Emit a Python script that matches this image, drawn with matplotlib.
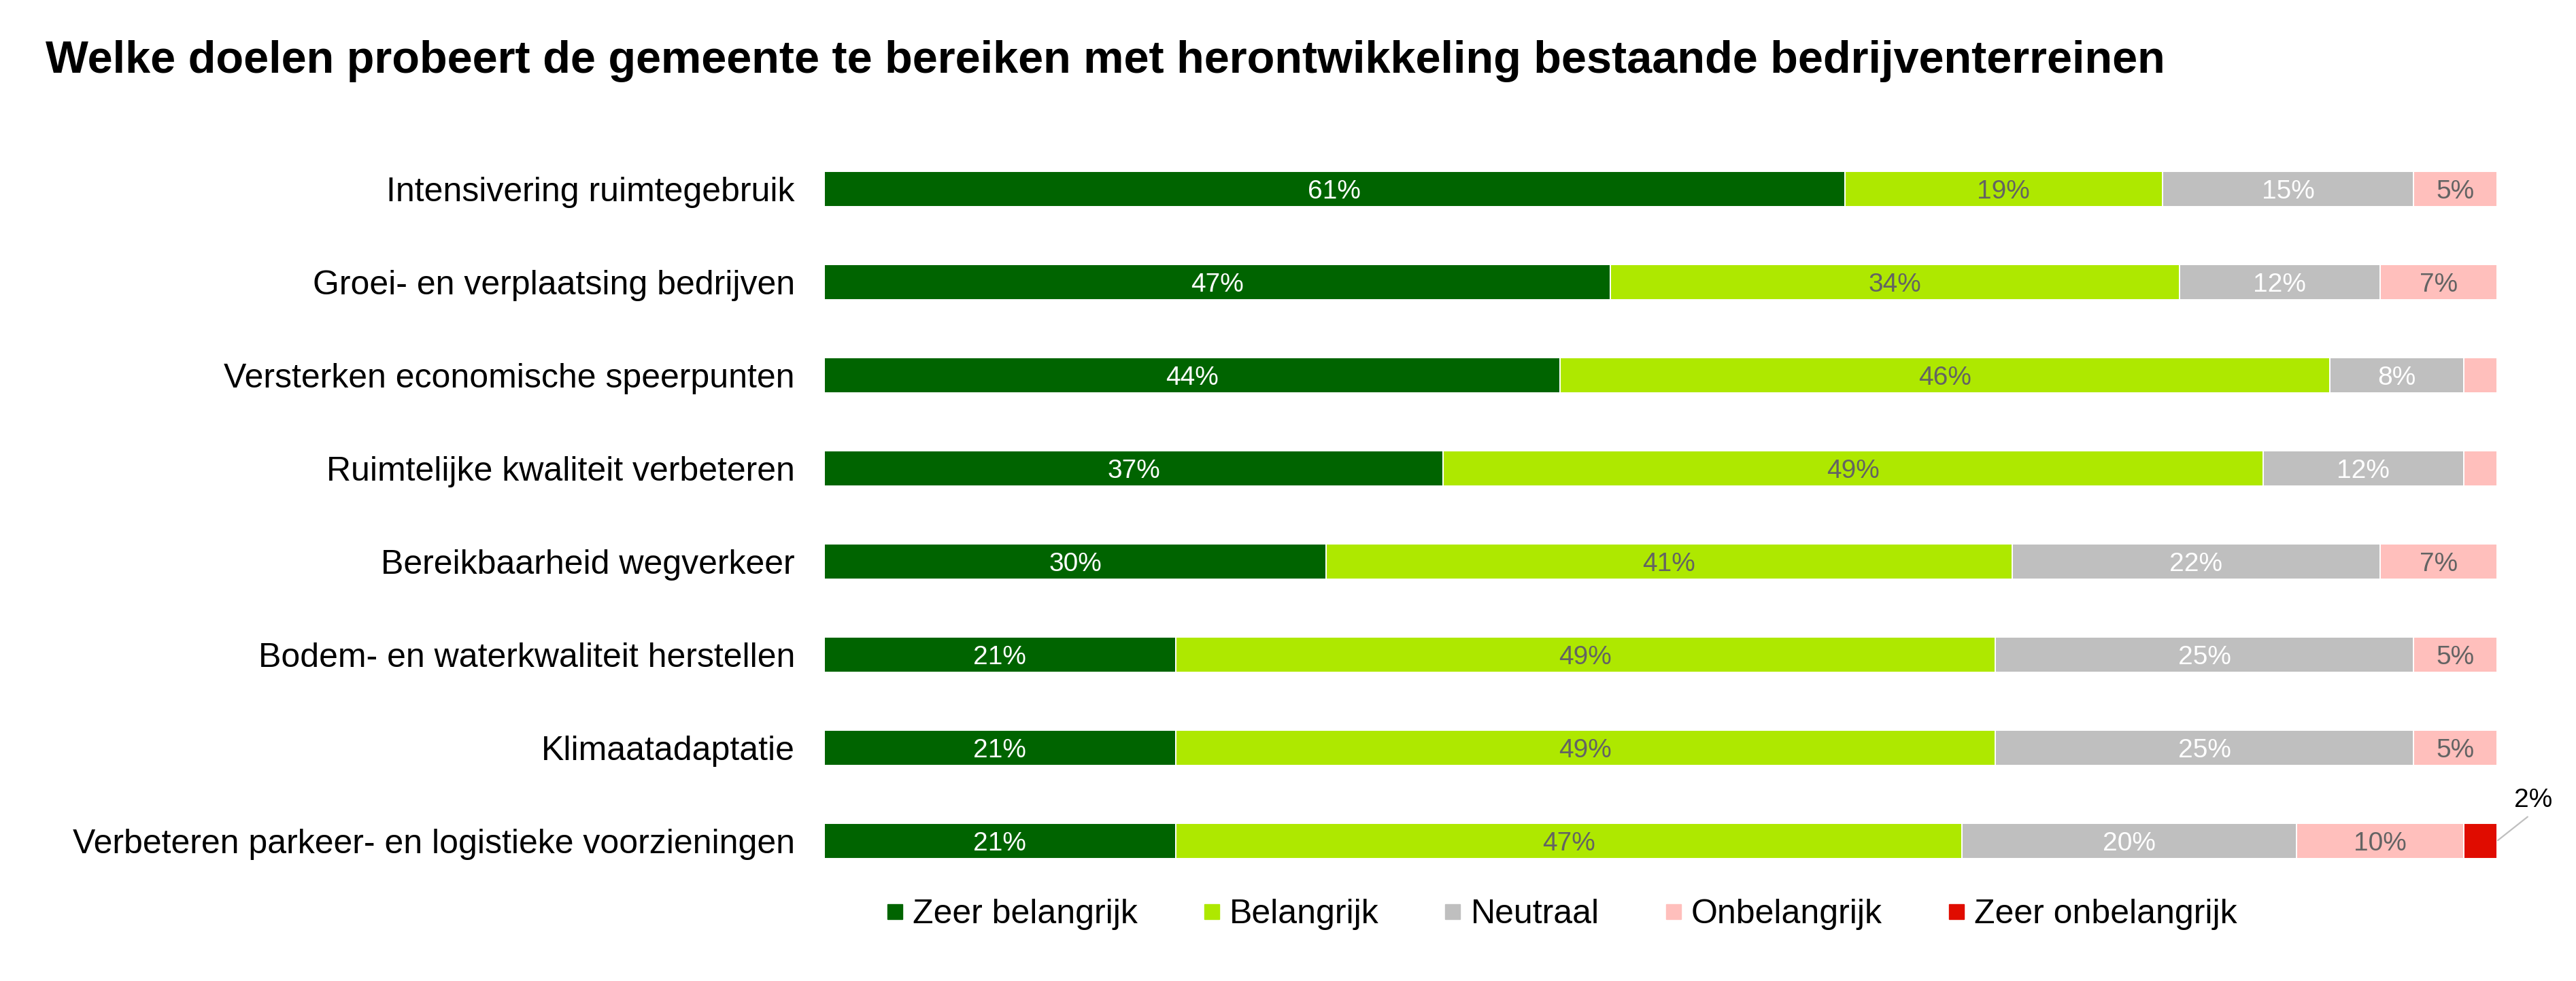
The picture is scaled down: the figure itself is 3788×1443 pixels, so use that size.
import matplotlib
matplotlib.use('Agg')
import matplotlib.pyplot as plt
from matplotlib.lines import Line2D
import numpy as np

plt.rcParams['font.family'] = ['Liberation Sans', 'DejaVu Sans']

title = "Welke doelen probeert de gemeente te bereiken met herontwikkeling bestaande bedrijventerreinen"

categories = [
    "Intensivering ruimtegebruik",
    "Groei- en verplaatsing bedrijven",
    "Versterken economische speerpunten",
    "Ruimtelijke kwaliteit verbeteren",
    "Bereikbaarheid wegverkeer",
    "Bodem- en waterkwaliteit herstellen",
    "Klimaatadaptatie",
    "Verbeteren parkeer- en logistieke voorzieningen",
]

series_names = ["Zeer belangrijk", "Belangrijk", "Neutraal", "Onbelangrijk", "Zeer onbelangrijk"]
zeer_belangrijk = [61, 47, 44, 37, 30, 21, 21, 21]
belangrijk = [19, 34, 46, 49, 41, 49, 49, 47]
neutraal = [15, 12, 8, 12, 22, 25, 25, 20]
onbelangrijk = [5, 7, 2, 2, 7, 5, 5, 10]
zeer_onbelangrijk = [0, 0, 0, 0, 0, 0, 0, 2]

series = [zeer_belangrijk, belangrijk, neutraal, onbelangrijk, zeer_onbelangrijk]
colors = ['#006400', '#AEE800', '#BFBFBF', '#FFBFBC', '#E00C00']
label_colors = ['white', '#636363', 'white', '#636363', 'black']

fig = plt.figure(figsize=(37.88, 14.43), dpi=100)
ax = fig.add_axes([0.31996, 0.0953, 0.6494, 0.7595])

y = np.arange(len(categories))
left = np.zeros(len(categories))
bar_h = 0.38
for si, (vals, col, lcol) in enumerate(zip(series, colors, label_colors)):
    vals = np.array(vals, dtype=float)
    ax.barh(y, vals, left=left, height=bar_h, color=col,
            edgecolor='white', linewidth=1.4)
    for i, v in enumerate(vals):
        if v >= 5:
            ax.text(left[i] + v / 2, y[i], f"{int(v)}%", ha='center',
                    va='center_baseline', fontsize=28, color=lcol)
        elif v > 0 and si == len(series) - 1:
            ax.annotate(f"{int(v)}%", xy=(left[i] + v, y[i]), xytext=(38, 43),
                        textcoords='offset points', ha='center', va='center',
                        fontsize=28, color='black', annotation_clip=False,
                        arrowprops=dict(arrowstyle='-', color='#BFBFBF', lw=1.6,
                                        shrinkA=4, shrinkB=1, relpos=(0.5, 0)))
    left += vals

ax.set_xlim(0, 100)
ax.set_ylim(len(categories) - 0.5, -0.5)
ax.set_yticks(y)
ax.set_yticklabels(categories, fontsize=36)
ax.tick_params(axis='y', length=0, pad=31)
ax.set_xticks([])
for s in ax.spines.values():
    s.set_visible(False)

fig.text(0.0177, 1 - 107 / 1443, title, fontsize=48, fontweight='bold',
         ha='left', va='baseline')

handles = [Line2D([], [], marker='s', linestyle='none', markersize=15.8,
                  markerfacecolor=c, markeredgecolor=c) for c in colors]
fig.legend(handles, series_names, loc='center', bbox_to_anchor=(0.6064, 0.0679),
           ncol=5, frameon=False, fontsize=36, handlelength=0.44,
           handletextpad=0.3, columnspacing=1.96, borderpad=0, borderaxespad=0)

fig.savefig('out.png', dpi=100)
